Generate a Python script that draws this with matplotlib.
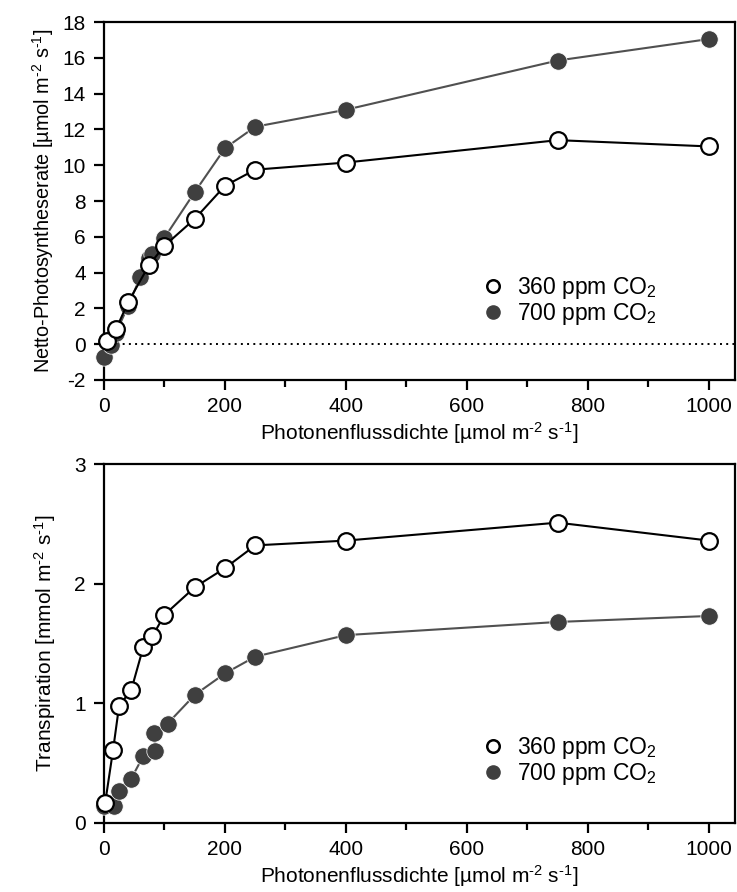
import matplotlib
matplotlib.use("Agg")
import matplotlib.pyplot as plt
from matplotlib.lines import Line2D

plt.rcParams['font.family'] = ['Liberation Sans', 'DejaVu Sans']
plt.rcParams['mathtext.fontset'] = 'custom'
plt.rcParams['mathtext.rm'] = 'Liberation Sans'
plt.rcParams['mathtext.default'] = 'regular'
plt.rcParams['axes.unicode_minus'] = False

# --- data: net photosynthesis (top) ---
ps_x_360 = [5, 20, 40, 75, 100, 150, 200, 250, 400, 750, 1000]
ps_y_360 = [0.2, 0.85, 2.35, 4.45, 5.5, 7.0, 8.85, 9.75, 10.15, 11.4, 11.05]
ps_x_700 = [0, 12, 20, 40, 60, 75, 80, 100, 150, 200, 250, 400, 750, 1000]
ps_y_700 = [-0.7, -0.05, 0.65, 2.15, 3.75, 4.8, 5.05, 5.95, 8.5, 10.95, 12.15, 13.1, 15.85, 17.05]

# --- data: transpiration (bottom) ---
tr_x_360 = [2, 15, 25, 45, 65, 80, 100, 150, 200, 250, 400, 750, 1000]
tr_y_360 = [0.17, 0.61, 0.98, 1.11, 1.47, 1.56, 1.74, 1.97, 2.13, 2.32, 2.36, 2.51, 2.36]
tr_x_700 = [0, 17, 25, 45, 65, 85, 83, 105, 150, 200, 250, 400, 750, 1000]
tr_y_700 = [0.14, 0.14, 0.27, 0.37, 0.56, 0.60, 0.75, 0.83, 1.07, 1.25, 1.39, 1.57, 1.68, 1.73]

labels = ['360 ppm CO$_2$', '700 ppm CO$_2$']
# hyphen (U+2010) instead of the math minus in the superscripts
xlabel = 'Photonenflussdichte [µmol m$^{\u20102}$ s$^{\u20101}$]'
ylabel_ps = 'Netto-Photosyntheserate [µmol m$^{\u20102}$ s$^{\u20101}$]'
ylabel_tr = 'Transpiration [mmol m$^{\u20102}$ s$^{\u20101}$]'

fig = plt.figure(figsize=(7.37, 8.92), dpi=100)
ax1 = fig.add_axes([0.1411, 0.574, 0.8562, 0.4013])
ax2 = fig.add_axes([0.1411, 0.0774, 0.8562, 0.4024])

filled = '#3f3f3f'


def draw(ax, x360, y360, x700, y700, legend_y):
    ax.plot(x700, y700, '-', color='#505050', lw=1.5, zorder=3)
    ax.plot(x700, y700, 'o', ms=12.5, mfc=filled, mec='white', mew=0.5,
            zorder=4, clip_on=False)
    ax.plot(x360, y360, '-', color='black', lw=1.5, zorder=5)
    ax.plot(x360, y360, 'o', ms=12, mfc='white', mec='black', mew=1.6,
            zorder=6, clip_on=False)
    ax.set_xlim(0, 1043)
    ax.set_xticks(range(0, 1001, 200))
    ax.set_xticks(range(100, 1000, 200), minor=True)
    ax.tick_params(axis='both', which='major', direction='out', length=7,
                   width=1.6, labelsize=15, pad=5)
    ax.tick_params(axis='y', which='major', pad=6)
    ax.tick_params(axis='x', which='minor', direction='out', length=5, width=1.6)
    for s in ax.spines.values():
        s.set_linewidth(1.6)
    ax.set_xlabel(xlabel, fontsize=15, labelpad=3)
    handles = [Line2D([], [], ls='none', marker='o', ms=9, mfc='white',
                      mec='black', mew=1.8),
               Line2D([], [], ls='none', marker='o', ms=9.5, mfc=filled,
                      mec=filled)]
    ax.legend(handles, labels, loc='center left',
              bbox_to_anchor=(0.602, legend_y), frameon=False, fontsize=16.5,
              handletextpad=0.65, labelspacing=0.0, handlelength=0.8,
              borderpad=0, borderaxespad=0)


draw(ax1, ps_x_360, ps_y_360, ps_x_700, ps_y_700, 0.221)
ax1.axhline(0, color='black', ls=(0, (1, 2.2)), lw=1.4, zorder=2)
ax1.set_ylim(-2, 18)
ax1.set_yticks(range(-2, 19, 2))
ax1.set_ylabel(ylabel_ps, fontsize=14.3, labelpad=5)

draw(ax2, tr_x_360, tr_y_360, tr_x_700, tr_y_700, 0.173)
ax2.set_ylim(0, 3)
ax2.set_yticks([0, 1, 2, 3])
ax2.set_ylabel(ylabel_tr, fontsize=15, labelpad=12)

fig.savefig('out.png', dpi=100)
